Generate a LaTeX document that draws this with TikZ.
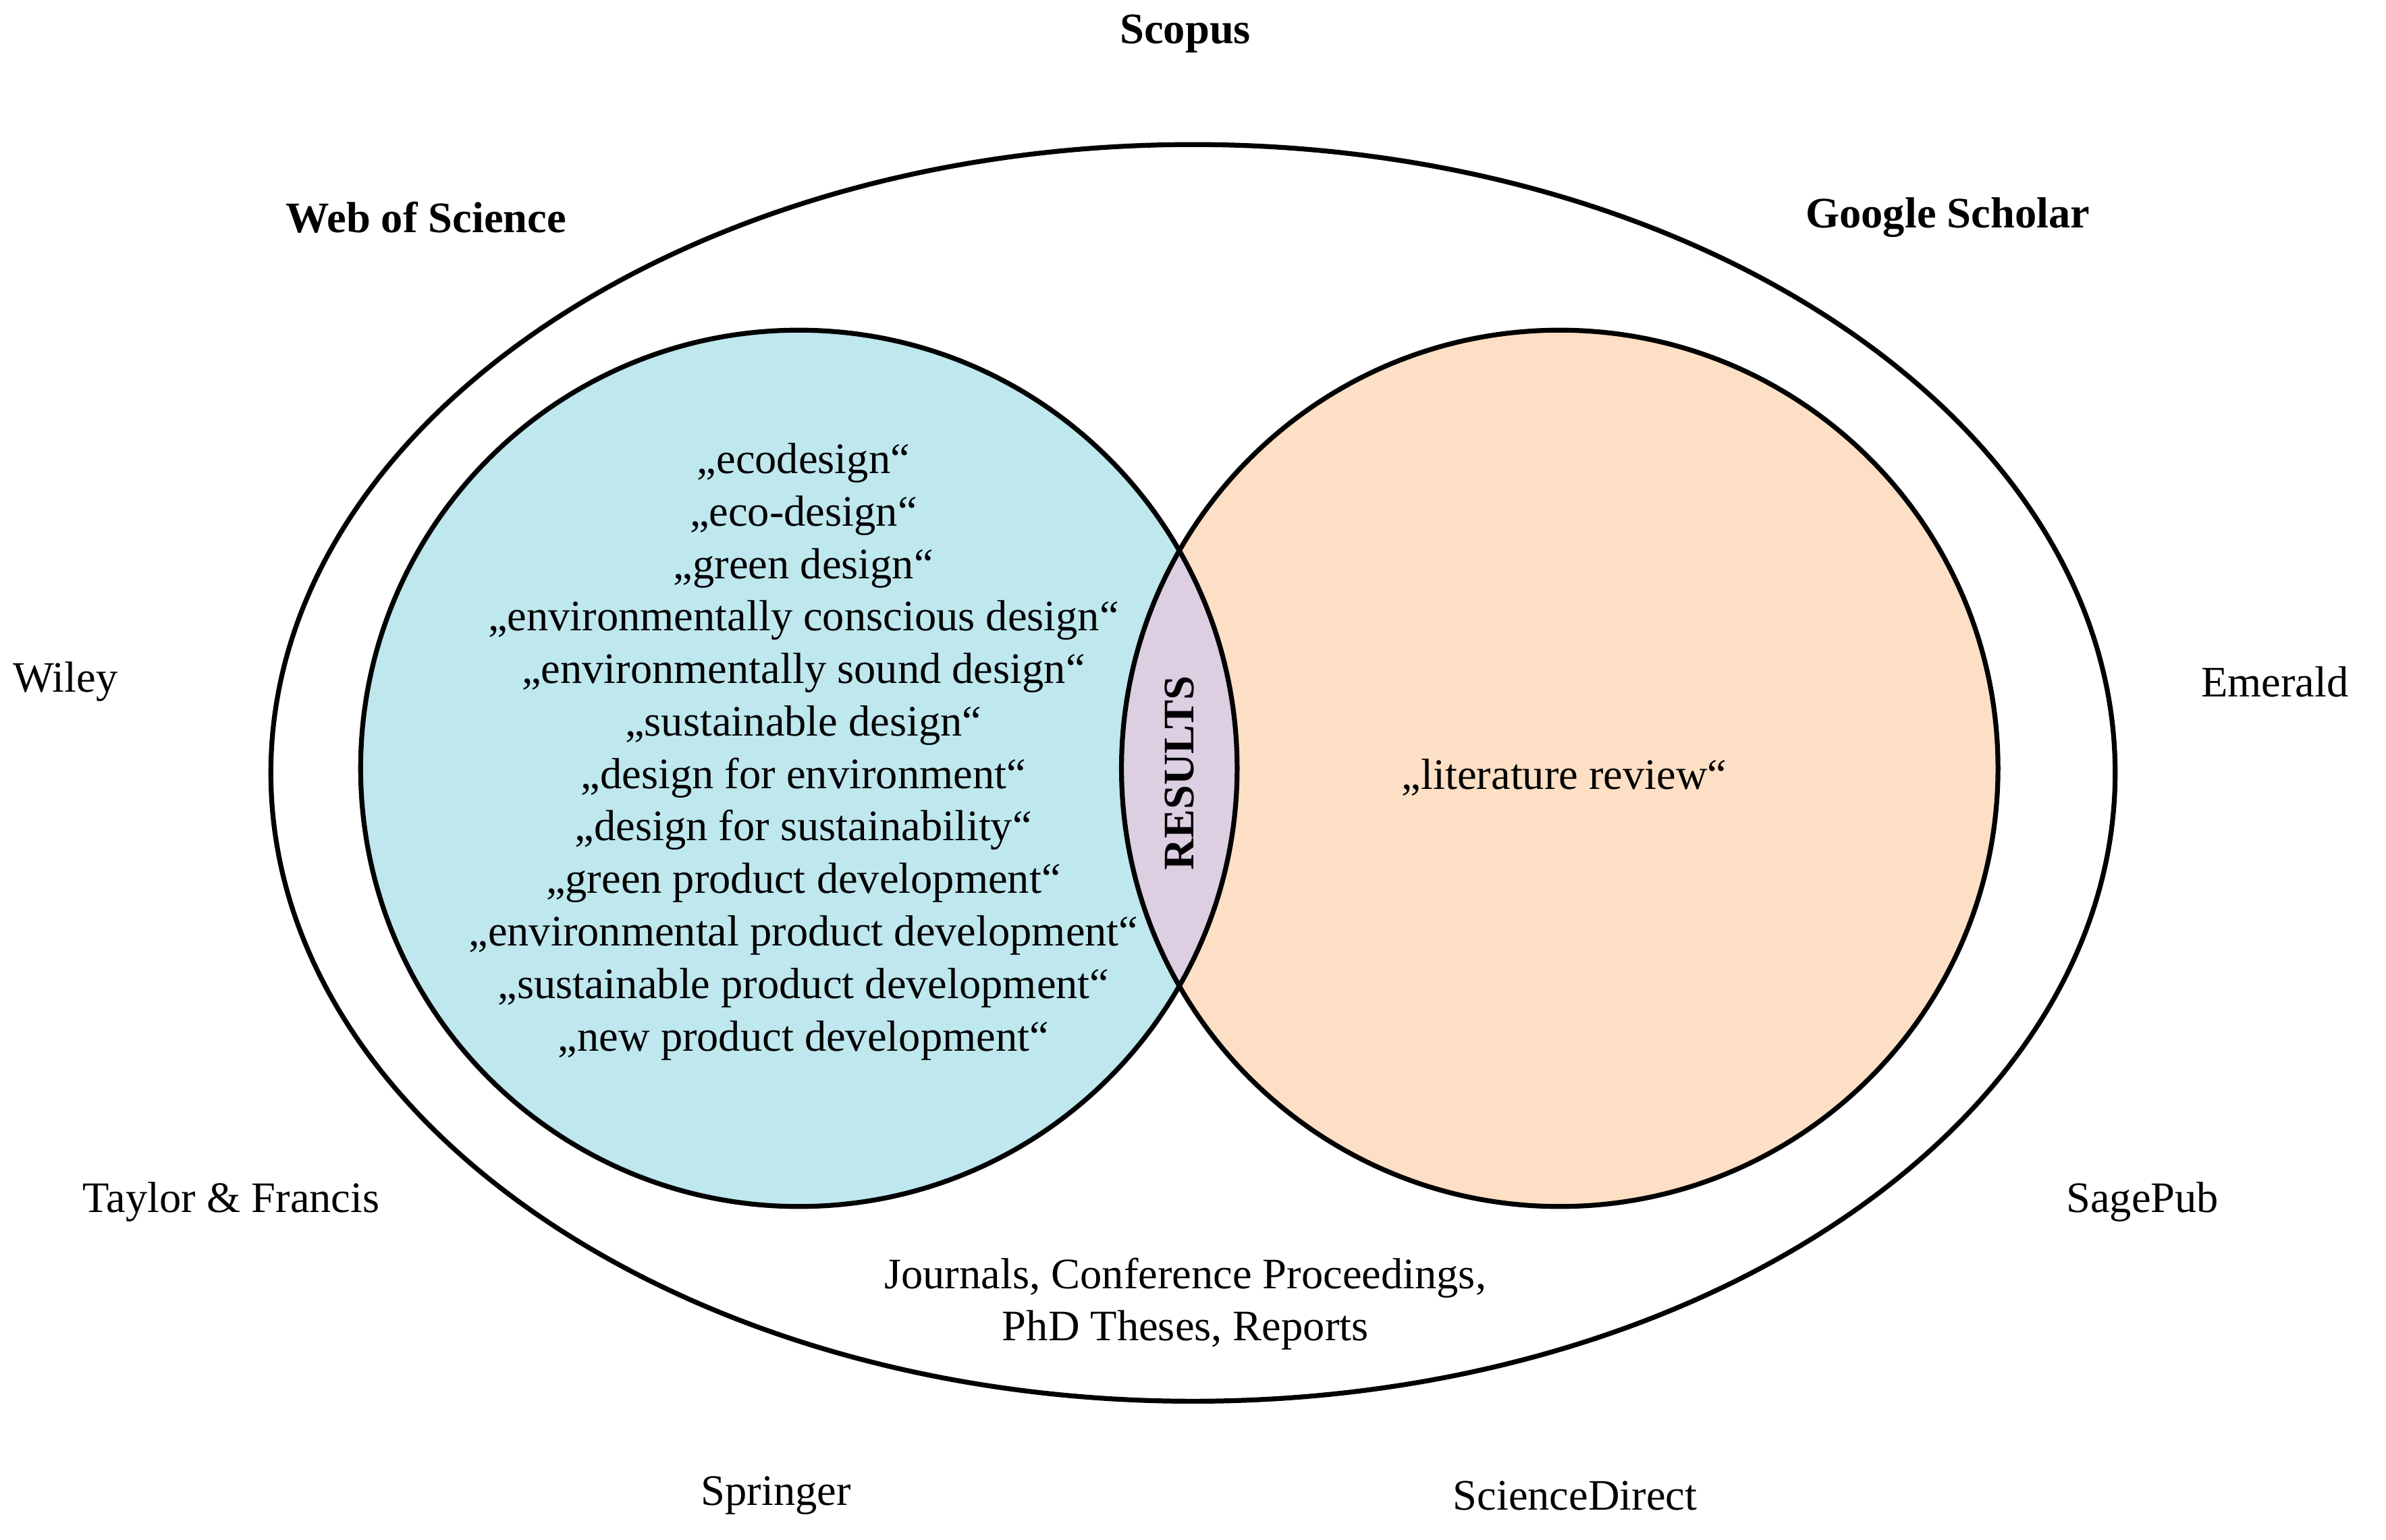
\documentclass[tikz,border=0pt]{standalone}
\usepackage{fontspec}
\setmainfont{Liberation Serif}
\definecolor{cblue}{HTML}{BEE7EE}
\definecolor{cpeach}{HTML}{FDDFC5}
\definecolor{clav}{HTML}{DCCFE2}
\begin{document}
\begin{tikzpicture}[x=0.5pt,y=-0.5pt,line width=1.6pt,
  lbl/.style={font=\fontsize{14.3}{17.25}\selectfont,align=center},
  blbl/.style={font=\fontsize{14.3}{17.25}\selectfont\bfseries,align=center}]
\useasboundingbox (0,0) rectangle (1568,1012);
\path[fill=cblue] (525,505) circle[radius=288];
\path[fill=cpeach] (1025,505) circle[radius=288];
\begin{scope}
\clip (525,505) circle[radius=288];
\fill[clav] (1025,505) circle[radius=288];
\end{scope}
\draw (525,505) circle[radius=288];
\draw (1025,505) circle[radius=288];
\draw (784,508) ellipse[x radius=606, y radius=413];
\node[blbl] (scopus) at (779,22) {Scopus};
\node[blbl] (wos) at (280,143) {Web of Science};
\node[blbl] (gs) at (1280,143) {Google Scholar};
\node[lbl] (wiley) at (43,448) {Wiley};
\node[lbl] (emerald) at (1495,448) {Emerald};
\node[lbl] (tf) at (152,790) {Taylor \& Francis};
\node[lbl] (sage) at (1408,790) {SagePub};
\node[lbl] (spr) at (510,983) {Springer};
\node[lbl] (sd) at (1035,983) {ScienceDirect};
\node[lbl] (jour) at (779,857) {Journals, Conference Proceedings,\\PhD Theses, Reports};
\node[blbl,rotate=90] (res) at (775,508) {RESULTS};
\node[lbl] (lr) at (1028,511) {„literature review“};
\node[lbl] (kw) at (528,494) {„ecodesign“\\„eco-design“\\„green design“\\„environmentally conscious design“\\„environmentally sound design“\\„sustainable design“\\„design for environment“\\„design for sustainability“\\„green product development“\\„environmental product development“\\„sustainable product development“\\„new product development“};
\end{tikzpicture}
\end{document}
